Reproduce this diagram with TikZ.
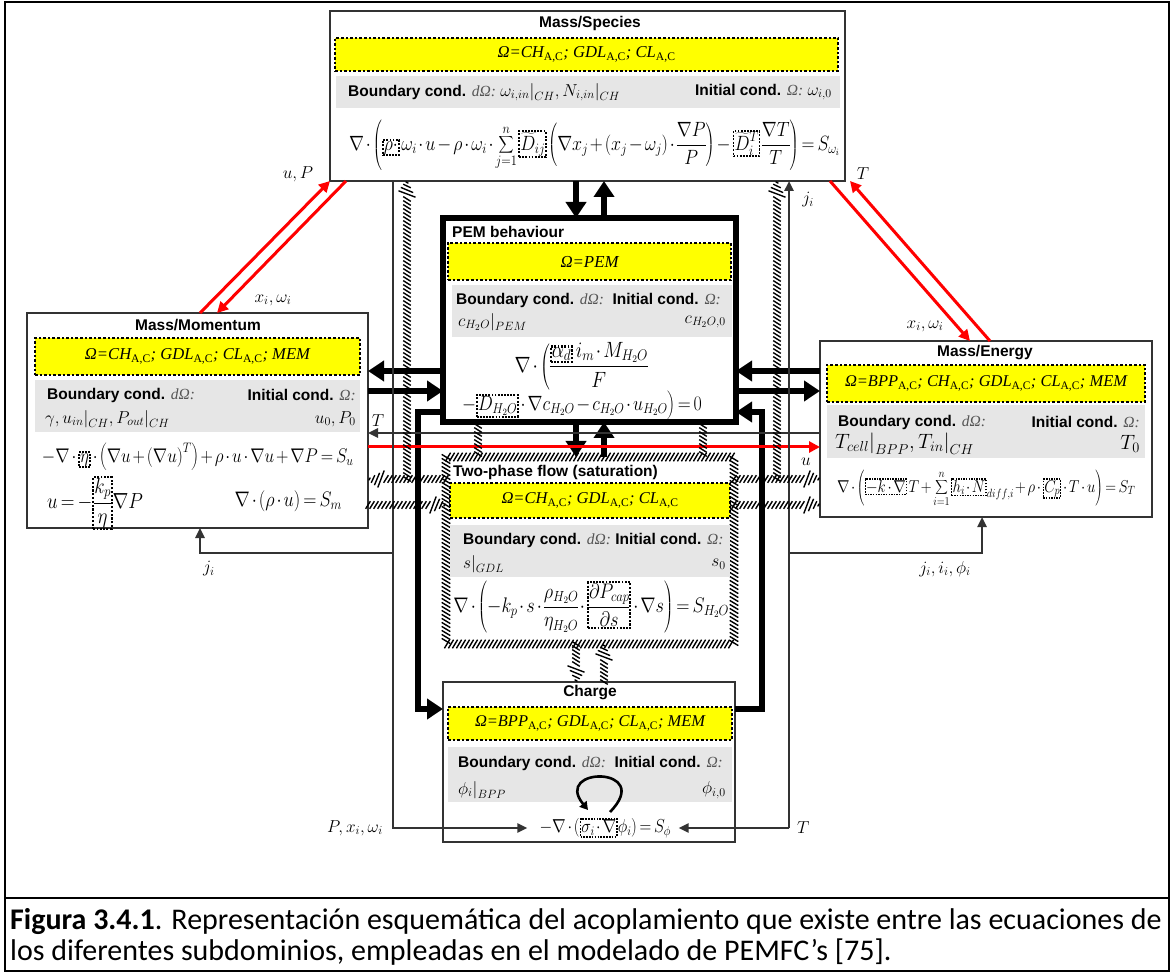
\documentclass[tikz,border=0pt]{standalone}
\usepackage[no-math]{fontspec}
\usepackage{graphicx}
\setmainfont{Liberation Sans}
\newfontfamily\capfont{Carlito}
\newfontfamily\timesf{Liberation Serif}
\usetikzlibrary{arrows.meta,decorations.markings}

\definecolor{linegray}{HTML}{333333}
\definecolor{bandgray}{HTML}{E6E6E6}
\definecolor{domyellow}{HTML}{FFFF00}
\definecolor{flowred}{HTML}{FF0000}
\definecolor{symgray}{HTML}{555555}

% dotted frame around a highlighted parameter inside an equation
\newcommand\hlbx[1]{\tikz[baseline=(hlnode.base)]\node[hlbox](hlnode){$\displaystyle#1$};}
\newcommand\sbAC{\textsubscript{\upshape A,C}}
% domain line in serif italic, scaled to a given width
\newcommand\domtext[2]{\resizebox{#1}{!}{\timesf\itshape Ω=#2}}
\newcommand\bcond{\textbf{Boundary cond.} {\timesf\itshape\color{symgray}dΩ:}}
\newcommand\icond{\textbf{Initial cond.} {\timesf\itshape\color{symgray}Ω:}}
\newcommand\mth[1]{{\fontsize{18}{20}\selectfont$#1$}}
\newcommand\tightmath{\thinmuskip=1.5mu\medmuskip=2mu plus 1mu\thickmuskip=3mu plus 2mu\nulldelimiterspace=0pt\scriptspace=0pt}
% equation scaled to a given width, slightly raised in height
\newcommand\eqfit[2]{\scalebox{1}[1.15]{\resizebox{#1}{!}{$\displaystyle #2$}}}

\tikzset{
  modbox/.style={draw=linegray, line width=1.8pt, fill=white, inner sep=0pt, outer sep=0pt},
  pembox/.style={draw=black, line width=6pt, fill=white, inner sep=0pt, outer sep=0pt},
  plainbox/.style={fill=white, inner sep=0pt, outer sep=0pt},
  dombox/.style={fill=domyellow, draw=black, line width=2.6pt, dash pattern=on 2.6pt off 2pt,
    inner sep=0pt, outer sep=0pt, font=\fontsize{18}{20}\selectfont},
  band/.style={fill=bandgray, inner sep=0pt, outer sep=0pt},
  ttl/.style={font=\fontsize{15.5}{18}\selectfont\bfseries, inner sep=0pt},
  cond/.style={font=\fontsize{15.5}{18}\selectfont, inner sep=0pt},
  eqn/.style={inner sep=0pt, font=\fontsize{17}{20}\selectfont\tightmath},
  lbl/.style={inner sep=0pt, font=\fontsize{18}{20}\selectfont},
  capnode/.style={inner sep=0pt, font=\capfont\fontsize{30}{31}\selectfont},
  heavy/.style={draw=black, line width=6pt, -{Triangle[length=16pt,width=20pt]}},
  thinflow/.style={draw=linegray, line width=2.4pt, -{Triangle[length=10pt,width=9pt]}},
  redflow/.style={draw=flowred, line width=3pt, -{Triangle[length=11pt,width=11pt]}},
  hatched/.style={postaction={decorate}, decoration={markings,
    mark=between positions 0 and 1 step 4pt with {\draw[line width=1.4pt,black] (-2.4pt,-3.8pt) -- (2.4pt,3.8pt);}}},
  % hatched coupling ending in a hatched arrow head
  hatcharrow/.style={postaction={decorate}, decoration={markings,
    mark=between positions 0 and -15pt step 4pt with {\draw[line width=1.4pt,black] (-2.4pt,-3.8pt) -- (2.4pt,3.8pt);},
    mark=at position -13pt with {\draw[line width=1.4pt,black] (-3.2pt,-8.5pt) -- (3.2pt,8.5pt);},
    mark=at position -9pt with {\draw[line width=1.4pt,black] (-2.6pt,-6.2pt) -- (2.6pt,6.2pt);},
    mark=at position -5pt with {\draw[line width=1.4pt,black] (-1.8pt,-3.8pt) -- (1.8pt,3.8pt);},
    mark=at position -1.5pt with {\draw[line width=1.4pt,black] (-0.8pt,-1.4pt) -- (0.8pt,1.4pt);}}},
  hatchband/.style={postaction={decorate}, decoration={markings,
    mark=between positions 0 and 1 step 4pt with {\draw[line width=1.4pt,black] (-2.6pt,-4.3pt) -- (2.6pt,4.3pt);}}},
  hlbox/.style={draw=black, line width=1.7pt, dash pattern=on 1.7pt off 1.3pt, inner sep=1pt, outer sep=0pt},
}

\begin{document}
\begin{tikzpicture}[x=1pt,y=-1pt]
\useasboundingbox (0,0) rectangle (1173,973);
\fill[white] (0,0) rectangle (1173,973);

% table frame and caption
\draw[line width=2pt] (5,2) rectangle (1169,971);
\draw[line width=2pt] (5,898) -- (1169,898);
\node[capnode, anchor=base west] (cap1) at (10,929) {\textbf{Figura 3.4.1}. Representación esquemática del acoplamiento que existe entre las ecuaciones de};
\node[capnode, anchor=base west] (cap2) at (10,960) {los diferentes subdominios, empleadas en el modelado de PEMFC’s [75].};

% helper abscissae and ordinates of the connector channels
\coordinate (xL1) at (393,0);
\coordinate (xL2) at (407,0);
\coordinate (xL3) at (418,0);
\coordinate (xR3) at (762,0);
\coordinate (xR2) at (777,0);
\coordinate (xR1) at (789,0);
\coordinate (cA) at (576,0);
\coordinate (cB) at (604,0);
\coordinate (hA) at (478,0);
\coordinate (hB) at (703,0);
\coordinate (xJ) at (200,0);
\coordinate (xE) at (982,0);
\coordinate (rd1) at (200,0);
\coordinate (rd2) at (346,0);
\coordinate (rd3) at (217,0);
\coordinate (rd4) at (830,0);
\coordinate (rd5) at (970,0);
\coordinate (rd6) at (990,0);
\coordinate (rd7) at (850,0);
\coordinate (r1) at (0,371);
\coordinate (r2) at (0,391);
\coordinate (r3) at (0,412);
\coordinate (rT) at (0,433);
\coordinate (rU) at (0,447);
\coordinate (rH1) at (0,479);
\coordinate (rH2) at (0,505);
\coordinate (rJ) at (0,553);
\coordinate (rC) at (0,709);

% ---------- Mass/Species ----------
\node[modbox, minimum width=515pt, minimum height=170pt] (S) at (587.5,96) {};
\node[ttl] (Sttl) at (590,23) {Mass/Species};
\node[dombox, minimum width=503pt, minimum height=33pt] (Sdom) at (586.5,54.5)
  {\domtext{178pt}{CH\sbAC; GDL\sbAC; CL\sbAC}};
\node[band, minimum width=504pt, minimum height=32pt] (Sband) at (588,92) {};
\node[cond, anchor=west] (Sbc) at (348,92) {\bcond\ \mth{\omega_{i,in}\big|_{CH},N_{i,in}\big|_{CH}}};
\node[cond, anchor=east] (Sic) at (832,92) {\icond\ \mth{\omega_{i,0}}};
\node[eqn] (Seq) at (594,145) {\eqfit{490pt}{\nabla\cdot\left(\hlbx{\rho\cdot}\,\omega_i\cdot u-\rho\cdot\omega_i\cdot\sum_{j=1}^{n}\hlbx{\widetilde{D}_{ij}}\left(\nabla x_j+\left(x_j-\omega_j\right)\cdot\frac{\nabla P}{P}\right)-\hlbx{\widetilde{D}_i^T}\,\frac{\nabla T}{T}\right)=S_{\omega_i}}};

% ---------- Mass/Momentum ----------
\node[modbox, minimum width=341pt, minimum height=215pt] (M) at (197.5,420.5) {};
\node[ttl] (Mttl) at (198,325) {Mass/Momentum};
\node[dombox, minimum width=325pt, minimum height=37pt] (Mdom) at (197.5,356.5)
  {\domtext{225pt}{CH\sbAC; GDL\sbAC; CL\sbAC; MEM}};
\node[band, minimum width=325pt, minimum height=52pt] (Mband) at (197.5,406) {};
\node[cond, anchor=west] (Mbc) at (47,395) {\bcond};
\node[cond, anchor=west] (Mbv) at (45,419) {\mth{\gamma,u_{in}\big|_{CH},P_{out}\big|_{CH}}};
\node[cond, anchor=east] (Mic) at (356,395) {\icond};
\node[cond, anchor=east] (Miv) at (356,419) {\mth{u_0,P_0}};
\node[eqn] (Meq1) at (197.5,457) {\eqfit{311pt}{-\nabla\cdot\hlbx{\eta}\cdot\left(\nabla u+\left(\nabla u\right)^T\right)+\rho\cdot u\cdot\nabla u+\nabla P=S_u}};
\node[eqn] (Meq2) at (95,503) {\eqfit{96pt}{u=-\hlbx{\frac{k_p}{\eta}}\nabla P}};
\node[eqn] (Meq3) at (288,501) {\eqfit{107pt}{\nabla\cdot\left(\rho\cdot u\right)=S_m}};

% ---------- PEM behaviour ----------
\node[pembox, minimum width=293pt, minimum height=204pt] (P) at (589.5,320) {};
\node[ttl, anchor=west] (Pttl) at (452,232) {PEM behaviour};
\node[dombox, minimum width=283pt, minimum height=37pt] (Pdom) at (589.5,261.5) {\domtext{58pt}{PEM}};
\node[band, minimum width=280pt, minimum height=52pt] (Pband) at (592,311) {};
\node[cond, anchor=west] (Pbc) at (456,300) {\bcond\ \ \icond};
\node[cond, anchor=west] (Pbv) at (458,322) {\mth{c_{H_2O}\big|_{PEM}}};
\node[cond, anchor=east] (Piv) at (726,322) {\mth{c_{H_2O,0}}};
\node[eqn] (Peq1) at (581,366) {\eqfit{133pt}{\nabla\cdot\left(\frac{\hlbx{\alpha_d}\;i_m\cdot M_{H_2O}}{F}\right.}};
\node[eqn] (Peq2) at (582,405) {\eqfit{240pt}{\left.-\hlbx{D_{H_2O}}\cdot\nabla c_{H_2O}-c_{H_2O}\cdot u_{H_2O}\right)=0}};

% ---------- Mass/Energy ----------
\node[modbox, minimum width=332pt, minimum height=176pt] (E) at (986,429) {};
\node[ttl] (Ettl) at (985,353) {Mass/Energy};
\node[dombox, minimum width=318pt, minimum height=37pt] (Edom) at (986,383.5)
  {\domtext{282pt}{BPP\sbAC; CH\sbAC; GDL\sbAC; CL\sbAC; MEM}};
\node[band, minimum width=318pt, minimum height=53pt] (Eband) at (986,431.5) {};
\node[cond, anchor=west] (Ebc) at (838,422) {\bcond};
\node[cond, anchor=west] (Ebv) at (835,444) {{\fontsize{20}{22}\selectfont$T_{cell}\big|_{BPP},T_{in}\big|_{CH}$}};
\node[cond, anchor=east] (Eic) at (1140,422) {\icond};
\node[cond, anchor=east] (Eiv) at (1140,444) {{\fontsize{20}{22}\selectfont$T_0$}};
\node[eqn] (Eeq) at (986,488) {\eqfit{298pt}{\nabla\cdot\left(\hlbx{-k\cdot\nabla}\,T+\sum_{i=1}^{n}{\hlbx{h_i\cdot N}}_{diff,i}+\rho\cdot\hlbx{C_p}\cdot T\cdot u\right)=S_T}};

% ---------- Two-phase flow ----------
\node[plainbox, minimum width=288pt, minimum height=187pt] (W) at (590,550.5) {};
\path[hatchband] (W.north west) rectangle (W.south east);
\node[ttl, anchor=west] (Wttl) at (453,472) {Two-phase flow (saturation)};
\node[dombox, minimum width=280pt, minimum height=35pt] (Wdom) at (590,500.5)
  {\domtext{177pt}{CH\sbAC; GDL\sbAC; CL\sbAC}};
\node[band, minimum width=280pt, minimum height=52pt] (Wband) at (590,551) {};
\node[cond, anchor=west] (Wbc) at (463,540) {\bcond\ \icond};
\node[cond, anchor=west] (Wbv) at (463,564) {\mth{s\big|_{GDL}}};
\node[cond, anchor=east] (Wiv) at (726,564) {\mth{s_0}};
\node[eqn] (Weq) at (591,607) {\eqfit{275pt}{\nabla\cdot\left(-k_p\cdot s\cdot\frac{\rho_{H_2O}}{\eta_{H_2O}}\cdot\hlbx{\frac{\partial P_{cap}}{\partial s}}\cdot\nabla s\right)=S_{H_2O}}};

% ---------- Charge ----------
\node[modbox, minimum width=292pt, minimum height=160pt] (C) at (589,762) {};
\node[ttl] (Cttl) at (590,693) {Charge};
\node[dombox, minimum width=284pt, minimum height=33pt] (Cdom) at (590,723.5)
  {\domtext{230pt}{BPP\sbAC; GDL\sbAC; CL\sbAC; MEM}};
\node[band, minimum width=284pt, minimum height=55pt] (Cband) at (590,774.5) {};
\node[cond, anchor=west] (Cbc) at (458,763) {\bcond\ \ \icond};
\node[cond, anchor=west] (Cbv) at (458,790) {\mth{\phi_i\big|_{BPP}}};
\node[cond, anchor=east] (Civ) at (726,790) {\mth{\phi_{i,0}}};
\node[eqn] (Ceq) at (605,828) {\eqfit{131pt}{-\nabla\cdot\left(\hlbx{\sigma_i\cdot\nabla}\phi_i\right)=S_\phi}};
\draw[line width=2.6pt, -{Triangle[length=8pt,width=9pt]}] (610,812) .. controls (655,766) and (552,766) .. (588,810);

% ---------- heavy couplings ----------
\draw[heavy] (S.south -| cA) -- (P.north -| cA);
\draw[heavy] (P.north -| cB) -- (S.south -| cB);
\draw[heavy] (P.south -| cA) -- (W.north -| cA);
\draw[heavy] (W.north -| cB) -- (P.south -| cB);
\draw[heavy] (P.west |- r1) -- (M.east |- r1);
\draw[heavy] (M.east |- r2) -- (P.west |- r2);
\draw[heavy] (E.west |- r1) -- (P.east |- r1);
\draw[heavy] (P.east |- r2) -- (E.west |- r2);
\draw[heavy] (P.west |- r3) -| (xL3 |- rC) -- (C.west |- rC);
\draw[heavy] (C.east |- rC) -| (xR3 |- r3) -- (P.east |- r3);

% ---------- thin couplings ----------
\draw[thinflow] (E.west |- rT) -- (M.east |- rT);
\draw[redflow] (M.east |- rU) -- (E.west |- rU);
\draw[thinflow, shorten >=12pt] (S.south -| xL1) |- (Ceq.west);
\draw[thinflow] (xL1 |- rJ) -| (M.south -| xJ);
\draw[thinflow] (xR1 |- Ceq.east) -- (S.south -| xR1);
\draw[thinflow, shorten >=8pt] (xR1 |- Ceq.east) -- (Ceq.east);
\draw[thinflow] (xR1 |- rJ) -| (E.south -| xE);

% ---------- red couplings ----------
\draw[redflow] (M.north -| rd1) -- (S.south west);
\draw[redflow] (S.south -| rd2) -- (M.north -| rd3);
\draw[redflow] (S.south -| rd4) -- (E.north -| rd5);
\draw[redflow] (E.north -| rd6) -- (S.south -| rd7);

% ---------- hatched couplings ----------
\path[hatcharrow] (xL2 |- rH1) -- (S.south -| xL2);
\path[hatcharrow] (W.west |- rH1) -- (M.east |- rH1);
\path[hatcharrow] (M.east |- rH2) -- (W.west |- rH2);
\path[hatcharrow] (xR2 |- rH1) -- (S.south -| xR2);
\path[hatcharrow] (W.east |- rH1) -- (E.west |- rH1);
\path[hatcharrow] (W.east |- rH2) -- (E.west |- rH2);
\path[hatched] (P.south -| hA) -- (W.north -| hA);
\path[hatched] (P.south -| hB) -- (W.north -| hB);
\path[hatcharrow] (W.south -| cA) -- (C.north -| cA);
\path[hatcharrow] (C.north -| cB) -- (W.south -| cB);

% ---------- labels ----------
\node[lbl] (lUP) at (298,174) {$u,P$};
\node[lbl] (lXW1) at (273,300) {$x_i,\omega_i$};
\node[lbl] (lXW2) at (925,326) {$x_i,\omega_i$};
\node[lbl] (lT1) at (863,174) {$T$};
\node[lbl] (lJ1) at (808,200) {$j_i$};
\node[lbl] (lT2) at (378,421) {$T$};
\node[lbl] (lU) at (806,462) {$u$};
\node[lbl] (lJ2) at (209,569) {$j_i$};
\node[lbl] (lJ3) at (945,569) {$j_i,i_i,\phi_i$};
\node[lbl, anchor=east] (lPXW) at (383,828) {$P,x_i,\omega_i$};
\node[lbl, anchor=west] (lT3) at (797,828) {$T$};
\end{tikzpicture}
\end{document}
